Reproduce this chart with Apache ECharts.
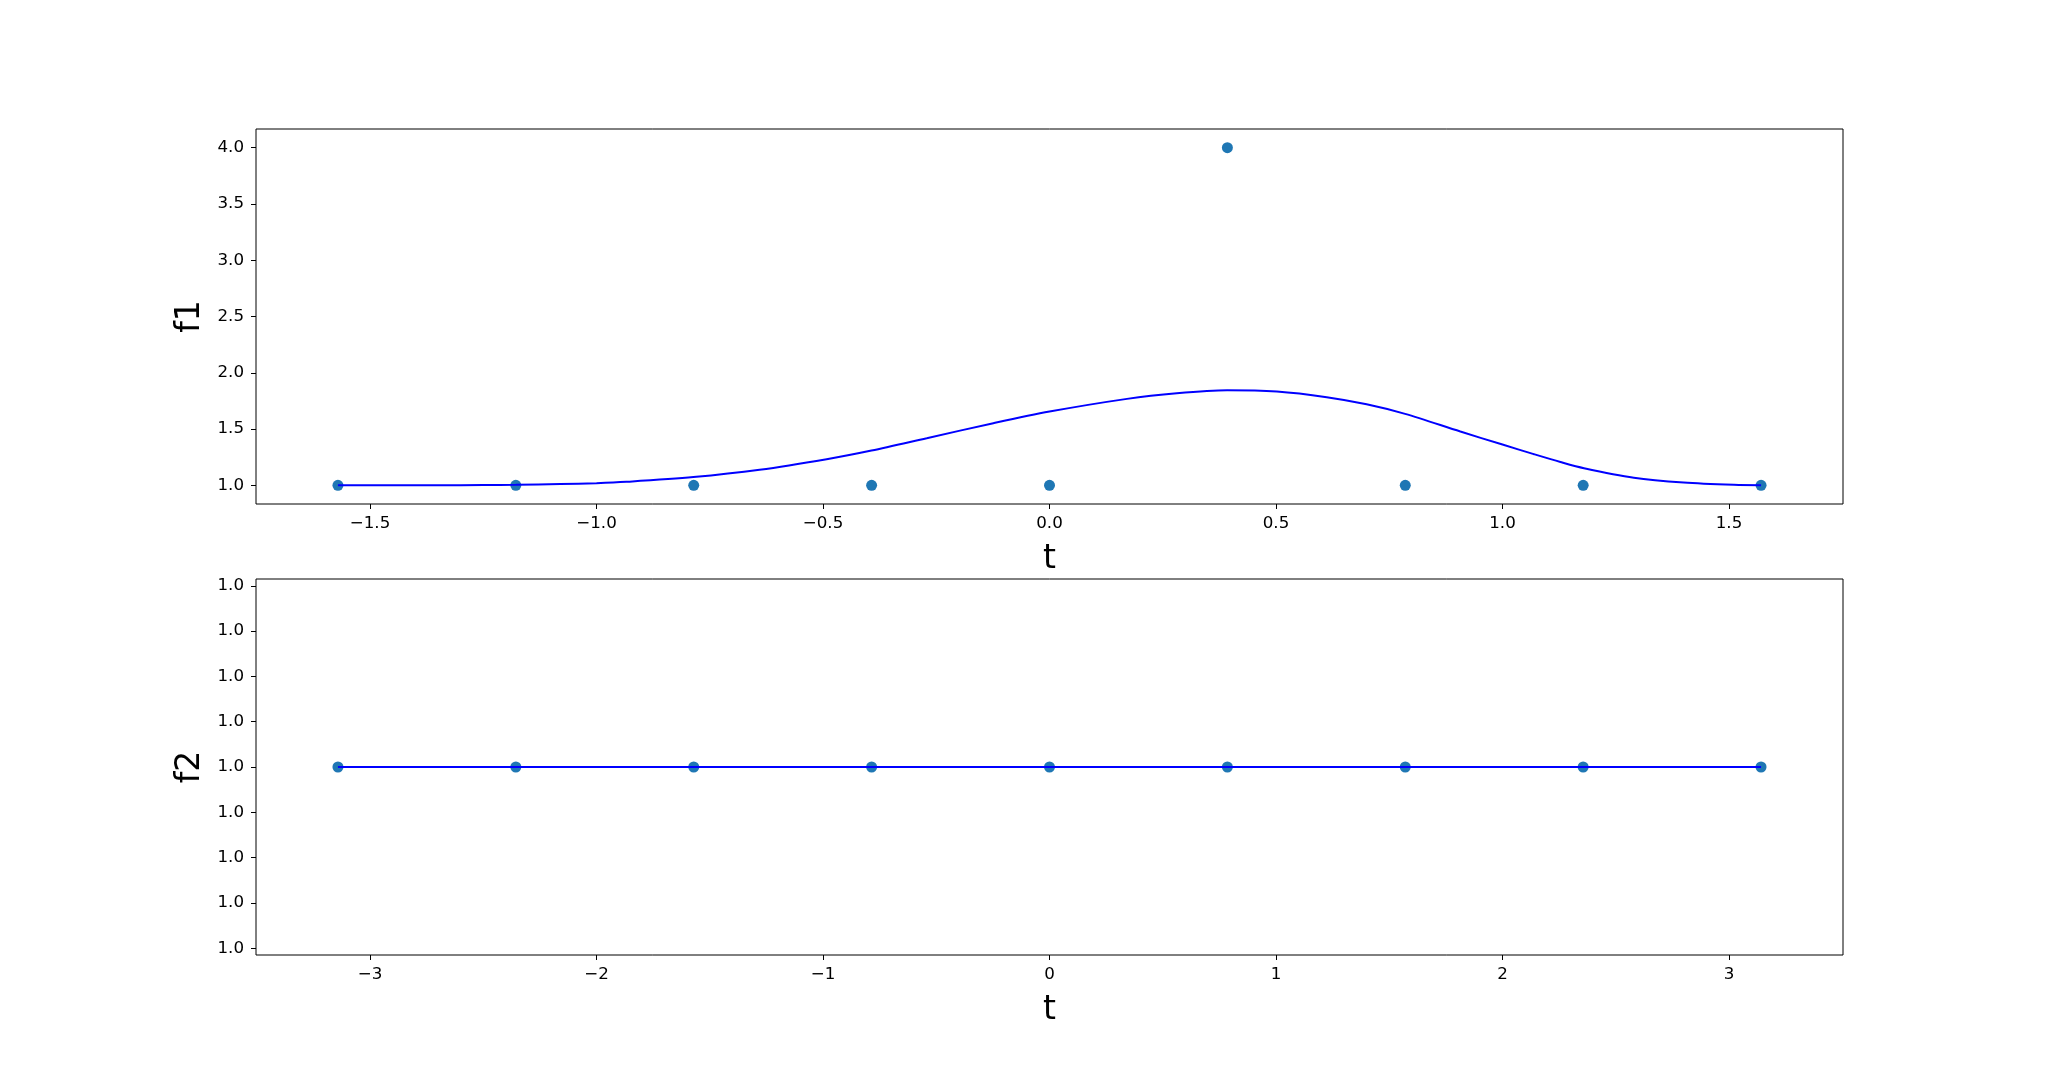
<!DOCTYPE html>
<html>
<head>
<meta charset="utf-8">
<script src="https://cdn.jsdelivr.net/npm/echarts@6/dist/echarts.min.js"></script>
<style>html,body{margin:0;padding:0;background:#fff}#c{width:2048px;height:1073px}</style>
</head>
<body>
<div id="c"></div>
<script>
// ---- data ----
const f1PointT = [-1.5708, -1.1781, -0.7854, -0.3927, 0, 0.3927, 0.7854, 1.1781, 1.5708];
const f1PointV = [1, 1, 1, 1, 1, 4, 1, 1, 1];
const f1CurveT = [-1.5708, -1.45, -1.35, -1.25, -1.178, -1.08, -1.0, -0.934, -0.786, -0.640, -0.492, -0.393, -0.271, -0.124, 0.0, 0.171, 0.281, 0.392, 0.502, 0.612, 0.700, 0.785, 0.907, 1.0, 1.069, 1.128, 1.180, 1.290, 1.400, 1.511, 1.5708];
const f1CurveV = [1.000, 1.000, 1.001, 1.002, 1.004, 1.011, 1.019, 1.031, 1.073, 1.138, 1.232, 1.309, 1.419, 1.552, 1.655, 1.768, 1.818, 1.845, 1.833, 1.783, 1.720, 1.635, 1.478, 1.362, 1.277, 1.207, 1.152, 1.068, 1.025, 1.004, 1.000];
const f2PointT = [-3.1416, -2.3562, -1.5708, -0.7854, 0, 0.7854, 1.5708, 2.3562, 3.1416];
const f2PointV = [1, 1, 1, 1, 1, 1, 1, 1, 1];
const topXTicks = [-1.5, -1.0, -0.5, 0.0, 0.5, 1.0, 1.5];
const topYTicks = [1.0, 1.5, 2.0, 2.5, 3.0, 3.5, 4.0];
const botXTicks = [-3, -2, -1, 0, 1, 2, 3];
const botYTicks = [0.996, 0.997, 0.998, 0.999, 1.000, 1.001, 1.002, 1.003, 1.004];

const pairs = (a, b) => a.map((v, i) => [v, b[i]]);
const minus = s => s.replace('-', '\u2212');
const FONT = 'DejaVu Sans';

function xAxis(gi, min, max, ticks, dec) {
  return {
    type: 'value', gridIndex: gi, min: min, max: max,
    name: 't', nameLocation: 'middle', nameGap: 39,
    nameTextStyle: { fontFamily: FONT, fontSize: 33, color: '#000' },
    axisLine: { show: false, onZero: false },
    splitLine: { show: false },
    axisTick: { show: true, inside: false, length: 5, customValues: ticks, lineStyle: { color: '#000', width: 1 } },
    axisLabel: { customValues: ticks, margin: 11, fontFamily: FONT, fontSize: 16.7, color: '#000',
      formatter: v => minus(Number(v).toFixed(dec)) }
  };
}
function yAxis(gi, min, max, ticks, name) {
  return {
    type: 'value', gridIndex: gi, min: min, max: max,
    name: name, nameLocation: 'middle', nameGap: 44, nameRotate: 90,
    nameTextStyle: { fontFamily: FONT, fontSize: 33, color: '#000' },
    axisLine: { show: false, onZero: false },
    splitLine: { show: false },
    axisTick: { show: true, inside: false, length: 5, customValues: ticks, lineStyle: { color: '#000', width: 1 } },
    axisLabel: { customValues: ticks, margin: 12, fontFamily: FONT, fontSize: 16.7, color: '#000',
      formatter: v => minus(Number(v).toFixed(1)) }
  };
}

const chart = echarts.init(document.getElementById('c'), null, { renderer: 'canvas' });
chart.setOption({
  animation: false,
  backgroundColor: '#fff',
  grid: [
    { left: 256, top: 129, width: 1587, height: 375, show: true, borderColor: '#000', borderWidth: 1, backgroundColor: 'transparent' },
    { left: 256, top: 579, width: 1587, height: 376, show: true, borderColor: '#000', borderWidth: 1, backgroundColor: 'transparent' }
  ],
  xAxis: [
    xAxis(0, -1.7517, 1.7517, topXTicks, 1),
    xAxis(1, -3.5035, 3.5035, botXTicks, 0)
  ],
  yAxis: [
    yAxis(0, 0.834, 4.166, topYTicks, 'f1'),
    yAxis(1, 0.99585, 1.00415, botYTicks, 'f2')
  ],
  series: [
    { type: 'scatter', xAxisIndex: 0, yAxisIndex: 0, data: pairs(f1PointT, f1PointV),
      symbolSize: 11, itemStyle: { color: '#1f77b4', opacity: 1 }, z: 2 },
    { type: 'line', xAxisIndex: 0, yAxisIndex: 0, data: pairs(f1CurveT, f1CurveV),
      smooth: 0.3, showSymbol: false, symbol: 'none', lineStyle: { color: '#0000ff', width: 2 }, z: 3 },
    { type: 'scatter', xAxisIndex: 1, yAxisIndex: 1, data: pairs(f2PointT, f2PointV),
      symbolSize: 11, itemStyle: { color: '#1f77b4', opacity: 1 }, z: 2 },
    { type: 'line', xAxisIndex: 1, yAxisIndex: 1, data: pairs(f2PointT, f2PointV),
      showSymbol: false, symbol: 'none', lineStyle: { color: '#0000ff', width: 2 }, z: 3 }
  ]
});
</script>
</body>
</html>
